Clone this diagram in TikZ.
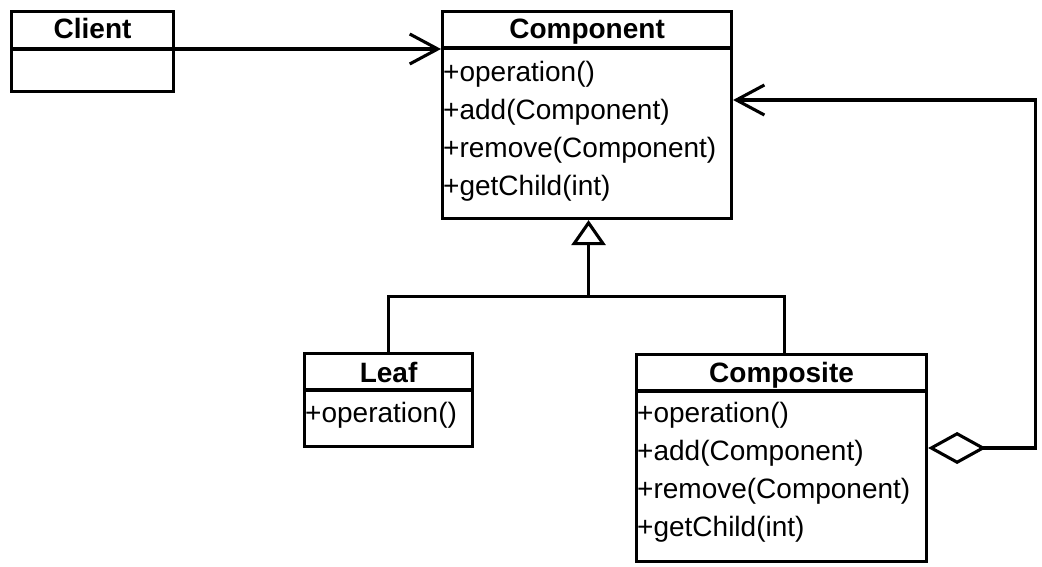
\documentclass[tikz,border=0pt]{standalone}
\usepackage{fontspec}
\setmainfont{Liberation Sans}
\usetikzlibrary{arrows.meta,calc}
\begin{document}
\begin{tikzpicture}[x=1pt,y=-1pt,
  ln/.style={line width=3.1pt},
  cls/.style={draw,ln,rectangle,inner sep=0pt,anchor=north west},
  hdr/.style={anchor=base,inner sep=0pt,font=\fontsize{28pt}{33pt}\selectfont\bfseries},
  mem/.style={anchor=base west,inner sep=0pt,font=\fontsize{28pt}{33pt}\selectfont},
  assoc/.style={ln,-{Straight Barb[length=28pt,width=30pt,line width=3.1pt]}},
  inh/.style={ln,-{Triangle[open,length=25pt,width=34pt,line width=3.1pt,fill=white]}},
  agg/.style={ln,{Diamond[open,length=58pt,width=32pt,line width=3.1pt,fill=white]}-{Straight Barb[length=28pt,width=30pt,line width=3.1pt]}}
]
\useasboundingbox (0,0) rectangle (1042,567);
\fill[white] (0,0) rectangle (1042,567);

% Client
\node[cls,minimum width=162pt,minimum height=80pt] (client) at (10,10) {};
\draw[ln] ($(client.north west)+(0,39)$) -- ($(client.north east)+(0,39)$);
\node[hdr] (clientT) at ($(client.north)+(0,29)$) {Client};

% Component
\node[cls,minimum width=289pt,minimum height=207pt] (comp) at (441,10) {};
\draw[ln] ($(comp.north west)+(0,38)$) -- ($(comp.north east)+(0,38)$);
\node[hdr] (compT) at ($(comp.north)+(0,29)$) {Component};
\node[mem] (c1) at (443,82) {+operation()};
\node[mem] (c2) at (443,120) {+add(Component)};
\node[mem] (c3) at (443,158) {+remove(Component)};
\node[mem] (c4) at (443,196) {+getChild(int)};

% Leaf
\node[cls,minimum width=168pt,minimum height=93pt] (leaf) at (303,352) {};
\draw[ln] ($(leaf.north west)+(0,38)$) -- ($(leaf.north east)+(0,38)$);
\node[hdr] (leafT) at ($(leaf.north)+(0,30)$) {Leaf};
\node[mem] (l1) at (305,422) {+operation()};

% Composite
\node[cls,minimum width=290pt,minimum height=207pt] (composite) at (635,353) {};
\draw[ln] ($(composite.north west)+(0,38)$) -- ($(composite.north east)+(0,38)$);
\node[hdr] (compoT) at ($(composite.north)+(0,29)$) {Composite};
\node[mem] (k1) at (637,422) {+operation()};
\node[mem] (k2) at (637,460) {+add(Component)};
\node[mem] (k3) at (637,498) {+remove(Component)};
\node[mem] (k4) at (637,536) {+getChild(int)};

% Client -> Component
\draw[assoc] ($(client.north east)+(0,39)$) -- ($(comp.north west)+(0,39)$);

% Inheritance
\coordinate (j) at ($(comp.south)+(1.5,76)$);
\coordinate (jc) at ($(composite.north)+(3,0)$);
\draw[ln] (leaf.north) |- (j) -| (jc);
\draw[inh] (j) -- (j |- comp.south);

% Aggregation
\coordinate (ra) at ($(composite.north east)+(107,95)$);
\coordinate (rb) at ($(comp.north east)+(302,90)$);
\draw[agg] ($(composite.north east)+(0,95)$) -- (ra) -- (rb) -- ($(comp.north east)+(0,90)$);
\end{tikzpicture}
\end{document}
